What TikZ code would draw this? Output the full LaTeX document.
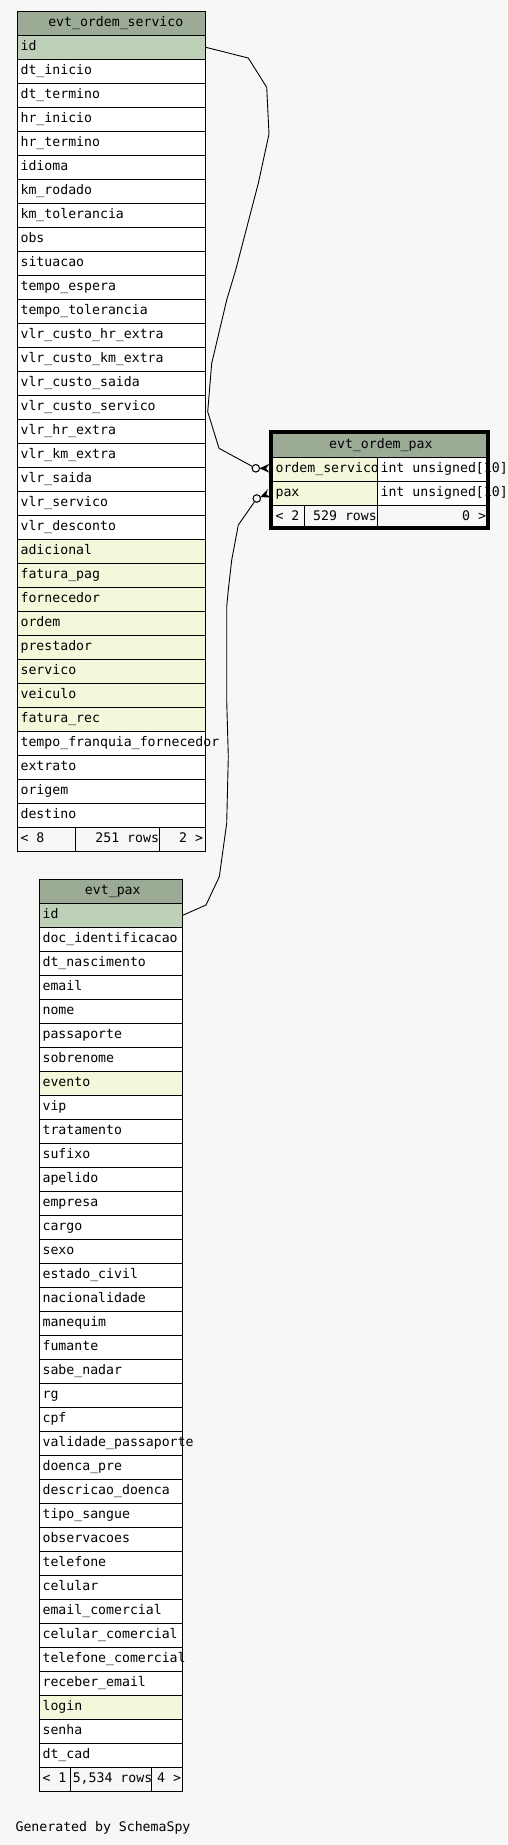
\documentclass[tikz,border=0pt]{standalone}
\usepackage{fontspec}
\setmonofont{DejaVu Sans Mono}
\definecolor{bgc}{HTML}{F7F7F7}
\definecolor{colh}{HTML}{9BAB96}
\definecolor{colk}{HTML}{BED1B8}
\definecolor{colx}{HTML}{F4F7DA}
\definecolor{colw}{HTML}{FFFFFF}
\tikzset{
  cell/.style={rectangle, inner sep=0, outer sep=0, minimum height=24pt, anchor=north west},
  txt/.style={inner sep=0, outer sep=0, anchor=base west, font=\ttfamily\fontsize{13.2}{15}\selectfont},
  txtc/.style={txt, anchor=base},
  txte/.style={txt, anchor=base east},
  grid/.style={line width=1pt, black},
  thick border/.style={line width=4pt, black},
  conn/.style={line width=0.9pt, black},
  endcirc/.style={circle, draw=black, line width=0.9pt, fill=bgc, inner sep=0, minimum size=7.4pt},
}
\begin{document}
\begin{tikzpicture}[x=1pt, y=-1pt]
\fill[bgc] (0,0) rectangle (507,1845);
\useasboundingbox (0,0) rectangle (507,1845);

% ---------- connectors ----------
\node[endcirc] (c1) at (255.8,468.3) {};
\node[endcirc] (c2) at (256.8,498.5) {};
\coordinate (osid) at (205.7,47.3);
\coordinate (paxid) at (182.7,915.3);
\draw[conn] (osid) -- (248.3,58) -- (266.7,87.3) -- (269,134) -- (258.3,183.3) -- (235.7,270) -- (226.7,300) -- (211.7,363.3) -- (207.7,411.7) -- (219,448.3) -- (c1);
\draw[conn] (paxid) -- (206,905) -- (219.3,876.7) -- (226.7,823.3) -- (228.3,756.7) -- (226.7,700) -- (226.7,606.7) -- (228.3,590) -- (231.7,560) -- (238.3,525) -- (c2);
\node[endcirc] at (c1) {};
\node[endcirc] at (c2) {};
\begin{scope}[shift={(269.5,468.3)}]
  \fill (-10,0) -- (0,4.5) -- (-3.5,0) -- (0,-4.5) -- cycle;
\end{scope}
\begin{scope}[shift={(269.5,493.3)}, rotate=22.3]
  \fill (-10,0) -- (0,4.5) -- (-3.5,0) -- (0,-4.5) -- cycle;
\end{scope}

% ---------- evt_ordem_servico ----------
\node[cell, fill=colh, minimum width=188.4pt] (osh) at (17.3,11.3) {};
\node[txtc] (osht) at (115.8,26.7) {evt\_ordem\_servico};
\foreach \n/\c [count=\i from 0] in {id/k, dt\_inicio/w, dt\_termino/w, hr\_inicio/w, hr\_termino/w, idioma/w, km\_rodado/w, km\_tolerancia/w, obs/w, situacao/w, tempo\_espera/w, tempo\_tolerancia/w, vlr\_custo\_hr\_extra/w, vlr\_custo\_km\_extra/w, vlr\_custo\_saida/w, vlr\_custo\_servico/w, vlr\_hr\_extra/w, vlr\_km\_extra/w, vlr\_saida/w, vlr\_servico/w, vlr\_desconto/w, adicional/x, fatura\_pag/x, fornecedor/x, ordem/x, prestador/x, servico/x, veiculo/x, fatura\_rec/x, tempo\_franquia\_fornecedor/w, extrato/w, origem/w, destino/w}{
  \node[cell, fill=col\c, minimum width=188.4pt] (os\i) at (17.3,{35.3+24*\i}) {};
  \node[txt] (ost\i) at (20.6,{50.7+24*\i}) {\n};
  \draw[grid] (os\i.north west) -- (os\i.north east);
}
\node[cell, fill=bgc, minimum width=188.4pt] (osf) at (17.3,827.3) {};
\node[txt] (osf1) at (20.6,842.7) {< 8};
\node[txte] (osf2) at (159.0,842.7) {251 rows};
\node[txte] (osf3) at (203.0,842.7) {2 >};
\draw[grid] (osf.north west) -- (osf.north east);
\draw[grid] (75.7,827.3) -- (75.7,851.3);
\draw[grid] (159.7,827.3) -- (159.7,851.3);
\draw[grid] (osh.north west) rectangle (osf.south east);

% ---------- evt_pax ----------
\node[cell, fill=colh, minimum width=143.4pt] (pxh) at (39.3,879.3) {};
\node[txtc] (pxht) at (112.8,894.7) {evt\_pax};
\foreach \n/\c [count=\i from 0] in {id/k, doc\_identificacao/w, dt\_nascimento/w, email/w, nome/w, passaporte/w, sobrenome/w, evento/x, vip/w, tratamento/w, sufixo/w, apelido/w, empresa/w, cargo/w, sexo/w, estado\_civil/w, nacionalidade/w, manequim/w, fumante/w, sabe\_nadar/w, rg/w, cpf/w, validade\_passaporte/w, doenca\_pre/w, descricao\_doenca/w, tipo\_sangue/w, observacoes/w, telefone/w, celular/w, email\_comercial/w, celular\_comercial/w, telefone\_comercial/w, receber\_email/w, login/x, senha/w, dt\_cad/w}{
  \node[cell, fill=col\c, minimum width=143.4pt] (px\i) at (39.3,{903.3+24*\i}) {};
  \node[txt] (pxt\i) at (42.6,{918.7+24*\i}) {\n};
  \draw[grid] (px\i.north west) -- (px\i.north east);
}
\node[cell, fill=bgc, minimum width=143.4pt] (pxf) at (39.3,1767.3) {};
\node[txt] (pxf1) at (42.6,1782.7) {< 1};
\node[txt] (pxf2) at (72.8,1782.7) {5,534 rows};
\node[txte] (pxf3) at (181.0,1782.7) {4 >};
\draw[grid] (pxf.north west) -- (pxf.north east);
\draw[grid] (70.3,1767.3) -- (70.3,1791.3);
\draw[grid] (151.7,1767.3) -- (151.7,1791.3);
\draw[grid] (pxh.north west) rectangle (pxf.south east);

% ---------- evt_ordem_pax ----------
\node[cell, fill=colh, minimum width=217pt] (oph) at (271.3,433.3) {};
\node[txtc] (opht) at (380.8,448.7) {evt\_ordem\_pax};
\node[cell, fill=colx, minimum width=106.4pt] (op1) at (271.3,457.3) {};
\node[cell, fill=colw, minimum width=110.6pt] (op1t) at (377.7,457.3) {};
\node[cell, fill=colx, minimum width=106.4pt] (op2) at (271.3,481.3) {};
\node[cell, fill=colw, minimum width=110.6pt] (op2t) at (377.7,481.3) {};
\node[cell, fill=bgc, minimum width=217pt] (opf) at (271.3,505.3) {};
\node[txt] (op1n) at (275.6,472.7) {ordem\_servico};
\node[txt] (op1y) at (380.6,472.7) {int unsigned[10]};
\node[txt] (op2n) at (275.6,496.7) {pax};
\node[txt] (op2y) at (380.6,496.7) {int unsigned[10]};
\node[txt] (opf1) at (275.6,520.7) {< 2};
\node[txte] (opf2) at (376.8,520.7) {529 rows};
\node[txte] (opf3) at (486.0,520.7) {0 >};
\draw[grid] (op1.north west) -- (op1t.north east);
\draw[grid] (op2.north west) -- (op2t.north east);
\draw[grid] (opf.north west) -- (opf.north east);
\draw[grid] (op1t.north west) -- (op2t.south west);
\draw[grid] (304.3,505.3) -- (304.3,529.3);
\draw[grid] (377.7,505.3) -- (377.7,529.3);
\draw[thick border] (271.3,431.7) rectangle (488.3,527.7);

% ---------- footer caption ----------
\node[txt] (gen) at (15.6,1831.7) {Generated by SchemaSpy};
\end{tikzpicture}
\end{document}
